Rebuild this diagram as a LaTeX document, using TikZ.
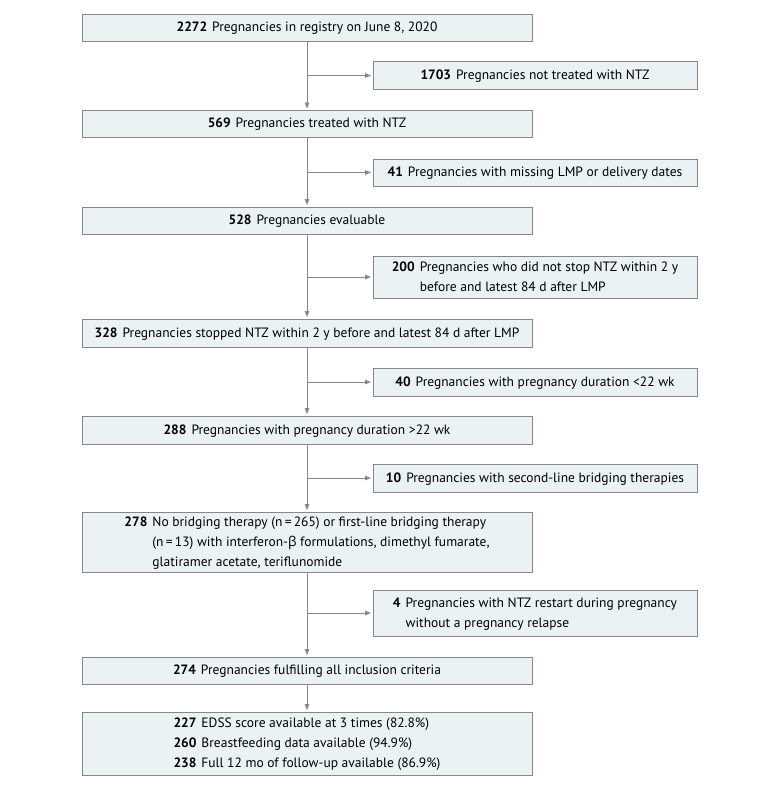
\documentclass[tikz,border=0pt]{standalone}
\usepackage{fontspec}
\setmainfont{PT Sans}
\newfontfamily\grkfont{Open Sans}
\usetikzlibrary{arrows.meta}
\definecolor{jamafill}{RGB}{234,242,244}
\definecolor{jamaline}{RGB}{135,135,135}
\newcommand{\cnt}[2]{\begin{tabular}{@{}r@{\hspace{5pt}}l@{}}\textbf{#1} & #2\end{tabular}}

\begin{document}
\begin{tikzpicture} [
    x=1pt, y=-1pt,
    every node/.append style={font=\fontsize{13.5}{20}\selectfont, inner sep=0pt},
    mainbox/.style={draw=jamaline, fill=jamafill, line width=0.9pt, minimum width=450pt, minimum height=27pt},
    sidebox/.style={draw=jamaline, fill=jamafill, line width=0.9pt, minimum width=324pt, minimum height=27pt},
    flow/.style={draw=jamaline, line width=0.9pt, -{Triangle[length=6pt, width=4.5pt]}, shorten >=1.5pt}
  ]

  \path [use as bounding box] (0,0) rectangle (780,789);

  \node [mainbox] (b1) at (307, 27.5) {\cnt{2272}{Pregnancies in registry on June 8, 2020}};
  \node [sidebox, minimum height=28pt] (s1) at (535, 75.5) {\cnt{1703}{Pregnancies not treated with NTZ}};
  \node [mainbox] (b2) at (307, 124) {\cnt{569}{Pregnancies treated with NTZ}};
  \node [sidebox] (s2) at (535, 172.5) {\cnt{41}{Pregnancies with missing LMP or delivery dates}};
  \node [mainbox] (b3) at (307, 220.5) {\cnt{528}{Pregnancies evaluable}};
  \node [sidebox, minimum height=42pt] (s3) at (535, 277)
    {\cnt{200}{Pregnancies who did not stop NTZ within 2 y\\ & before and latest 84 d after LMP}};
  \node [mainbox, minimum height=28pt] (b4) at (307, 333) {\cnt{328}{Pregnancies stopped NTZ within 2 y before and latest 84 d after LMP}};
  \node [sidebox, minimum height=28pt] (s4) at (535, 382) {\cnt{40}{Pregnancies with pregnancy duration <22 wk}};
  \node [mainbox, minimum height=28pt] (b5) at (307, 430) {\cnt{288}{Pregnancies with pregnancy duration >22 wk}};
  \node [sidebox, minimum height=28pt] (s5) at (535, 478) {\cnt{10}{Pregnancies with second-line bridging therapies}};
  \node [mainbox, minimum height=60pt] (b6) at (307, 542)
    {\cnt{278}{No bridging therapy (n\,=\,265) or first-line bridging therapy\\
      & (n\,=\,13) with interferon-{\grkfont β} formulations, dimethyl fumarate,\\
      & glatiramer acetate, teriflunomide}};
  \node [sidebox, minimum height=46pt] (s6) at (535, 613)
    {\cnt{4}{Pregnancies with NTZ restart during pregnancy\\ & without a pregnancy relapse}};
  \node [mainbox] (b7) at (307, 670.5) {\cnt{274}{Pregnancies fulfilling all inclusion criteria}};
  \node [mainbox, minimum height=63pt] (b8) at (307, 743.5)
    {\cnt{227}{EDSS score available at 3 times (82.8\%)\\
      \textbf{260} & Breastfeeding data available (94.9\%)\\
      \textbf{238} & Full 12 mo of follow-up available (86.9\%)}};

  % main column
  \draw [flow] (b1) -- (b2);
  \draw [flow] (b2) -- (b3);
  \draw [flow] (b3) -- (b4);
  \draw [flow] (b4) -- (b5);
  \draw [flow] (b5) -- (b6);
  \draw [flow] (b6) -- (b7);
  \draw [flow] (b7) -- (b8);

  % exclusions
  \coordinate (j1) at (b1.south |- s1.west);
  \coordinate (j2) at (b2.south |- s2.west);
  \coordinate (j3) at (b3.south |- s3.west);
  \coordinate (j4) at (b4.south |- s4.west);
  \coordinate (j5) at (b5.south |- s5.west);
  \coordinate (j6) at (b6.south |- s6.west);
  \draw [flow] (j1) -- (s1);
  \draw [flow] (j2) -- (s2);
  \draw [flow] (j3) -- (s3);
  \draw [flow] (j4) -- (s4);
  \draw [flow] (j5) -- (s5);
  \draw [flow] (j6) -- (s6);
\end{tikzpicture}
\end{document}
